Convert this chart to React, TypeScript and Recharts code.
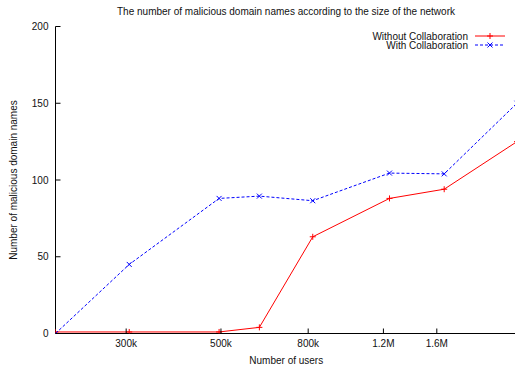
import React from "react";
import { LineChart, Line, XAxis, YAxis, Legend, Label } from "recharts";

// number of users (log axis) and counts
const users = [205000, 305000, 495000, 615000, 820000, 1240000, 1665000, 2465000];
const withoutCollab = [1, 1, 1, 4, 63, 88, 94, 125];
const withCollab = [0, 45, 88, 89.5, 86.5, 104.5, 104, 150];
const xTicks = [300000, 500000, 800000, 1200000, 1600000];
const xTickLabels = ["300k", "500k", "800k", "1.2M", "1.6M"];
const yTicks = [0, 50, 100, 150, 200];
const seriesOrder = ["without", "with"];

const data = users.map((u, i) => ({
  users: u,
  without: withoutCollab[i],
  with: withCollab[i],
}));

const FONT = '"Liberation Sans", Arial, Helvetica, sans-serif';
const INK = "#111";
const TICK = 5;

const BottomTick = (props: any) => {
  const { x, y, payload } = props;
  const axisY = y - 10;
  const i = xTicks.indexOf(payload.value);
  return (
    <g>
      <line x1={x} y1={axisY} x2={x} y2={axisY - TICK} stroke="#000" />
      <text x={x} y={y} textAnchor="middle" dominantBaseline="central" fontSize={10} fontFamily={FONT} fill={INK}>
        {i >= 0 ? xTickLabels[i] : payload.value}
      </text>
    </g>
  );
};

const TopTick = (props: any) => {
  const { x, y } = props;
  return <line x1={x} y1={y} x2={x} y2={y + TICK} stroke="#000" />;
};

const LeftTick = (props: any) => {
  const { x, y, payload } = props;
  const axisX = x + 7;
  return (
    <g>
      <line x1={axisX} y1={y} x2={axisX + TICK} y2={y} stroke="#000" />
      <text x={x} y={y} textAnchor="end" dominantBaseline="central" fontSize={10} fontFamily={FONT} fill={INK}>
        {payload.value}
      </text>
    </g>
  );
};

const RightTick = (props: any) => {
  const { x, y } = props;
  return <line x1={x} y1={y} x2={x - TICK} y2={y} stroke="#000" />;
};

const PlusDot = (props: any) => {
  const { cx, cy, stroke } = props;
  if (cx == null || cy == null) return null;
  return <path d={`M${cx - 3},${cy}h6M${cx},${cy - 3}v6`} stroke={stroke} fill="none" />;
};

const CrossDot = (props: any) => {
  const { cx, cy, stroke } = props;
  if (cx == null || cy == null) return null;
  return <path d={`M${cx - 2.5},${cy - 2.5}l5,5M${cx - 2.5},${cy + 2.5}l5,-5`} stroke={stroke} fill="none" />;
};

const YTitle = (props: any) => {
  const { viewBox } = props;
  const cx = viewBox.x + 13.5;
  const cy = viewBox.y + viewBox.height / 2;
  return (
    <text
      x={cx}
      y={cy}
      transform={`rotate(-90, ${cx}, ${cy})`}
      textAnchor="middle"
      dominantBaseline="central"
      fontSize={10}
      fontFamily={FONT}
      fill={INK}
    >
      Number of malicious domain names
    </text>
  );
};

const renderLegend = (props: any) => {
  const items = [...(props.payload || [])].sort(
    (a: any, b: any) => seriesOrder.indexOf(a.dataKey) - seriesOrder.indexOf(b.dataKey)
  );
  return (
    <svg width={180} height={20} style={{ display: "block", overflow: "visible" }}>
      {items.map((item: any, i: number) => {
        const y = 5 + i * 9;
        const dashed = item.dataKey === "with";
        return (
          <g key={item.value}>
            <text x={138} y={y} textAnchor="end" dominantBaseline="central" fontSize={10} fontFamily={FONT} fill={INK}>
              {item.value}
            </text>
            <line x1={145} y1={y} x2={175} y2={y} stroke={item.color} strokeDasharray={dashed ? "3 2" : undefined} />
            {dashed ? <CrossDot cx={160} cy={y} stroke={item.color} /> : <PlusDot cx={160} cy={y} stroke={item.color} />}
          </g>
        );
      })}
    </svg>
  );
};

export default function App() {
  return (
    <div style={{ position: "absolute", left: 0, top: 0, width: 515, height: 371, overflow: "hidden", background: "#fff" }}>
      <div
        style={{
          position: "absolute",
          left: 55.5,
          top: 6,
          width: 461,
          height: 12,
          lineHeight: "12px",
          textAlign: "center",
          fontSize: 10,
          fontFamily: FONT,
          color: INK,
          zIndex: 2,
        }}
      >
        The number of malicious domain names according to the size of the network
      </div>
      <LineChart width={517} height={371} data={data} margin={{ top: 26.5, right: 0, bottom: 0, left: 0 }}>
        <XAxis
          dataKey="users"
          type="number"
          scale="log"
          domain={[users[0], users[users.length - 1]]}
          allowDataOverflow
          ticks={xTicks}
          interval={0}
          height={37.5}
          tickSize={0}
          tickMargin={10}
          tick={<BottomTick />}
          axisLine={{ stroke: "#000" }}
        >
          <Label value="Number of users" position="insideBottom" offset={7} fontSize={10} fontFamily={FONT} fill={INK} />
        </XAxis>
        <XAxis
          xAxisId="top"
          dataKey="users"
          orientation="top"
          type="number"
          scale="log"
          domain={[users[0], users[users.length - 1]]}
          allowDataOverflow
          ticks={xTicks}
          interval={0}
          height={0}
          tickSize={0}
          tickMargin={0}
          tick={<TopTick />}
          axisLine={{ stroke: "#000" }}
        />
        <YAxis
          type="number"
          domain={[0, 200]}
          allowDataOverflow
          ticks={yTicks}
          interval={0}
          width={55.5}
          tickSize={0}
          tickMargin={7}
          tick={<LeftTick />}
          axisLine={{ stroke: "#000" }}
        >
          <Label content={<YTitle />} />
        </YAxis>
        <YAxis
          yAxisId="right"
          orientation="right"
          type="number"
          domain={[0, 200]}
          allowDataOverflow
          ticks={yTicks}
          interval={0}
          width={0}
          tickSize={0}
          tickMargin={0}
          tick={<RightTick />}
          axisLine={{ stroke: "#000" }}
        />
        <Legend
          layout="horizontal"
          verticalAlign="middle"
          align="center"
          wrapperStyle={{ left: 330, top: 31, width: 180, height: 20 }}
          content={renderLegend}
        />
        <Line
          type="linear"
          dataKey="without"
          name="Without Collaboration"
          stroke="#ff0000"
          strokeWidth={1}
          dot={<PlusDot />}
          activeDot={false}
          isAnimationActive={false}
        />
        <Line
          type="linear"
          dataKey="with"
          name="With Collaboration"
          stroke="#0000ff"
          strokeWidth={1}
          strokeDasharray="3 2"
          dot={<CrossDot />}
          activeDot={false}
          isAnimationActive={false}
        />
      </LineChart>
    </div>
  );
}
